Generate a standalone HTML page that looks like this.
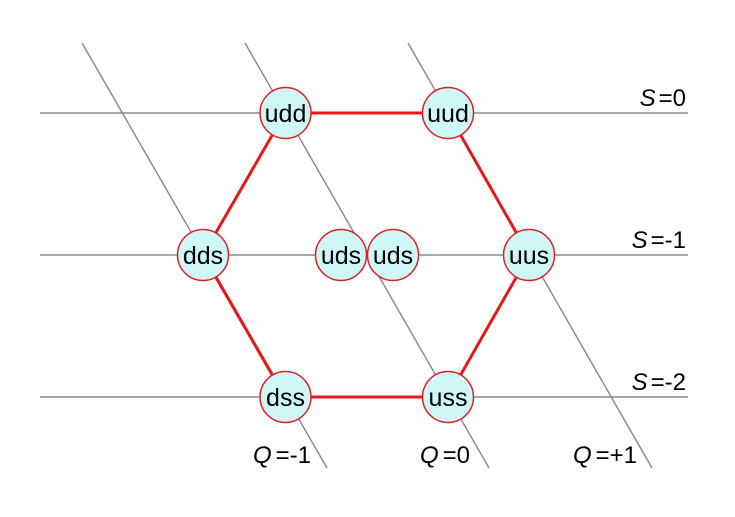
<!DOCTYPE html>
<html><head><style>body{margin:0;background:#fff}</style></head><body>
<svg width="735" height="512" xmlns="http://www.w3.org/2000/svg" font-family="Liberation Sans, sans-serif">
<g stroke="#8c8c8c" stroke-width="1.5">
<line x1="40" y1="113" x2="688" y2="113"/>
<line x1="40" y1="255" x2="688" y2="255"/>
<line x1="40" y1="397" x2="688" y2="397"/>
<line x1="82" y1="43" x2="327" y2="468"/>
<line x1="245" y1="43" x2="489" y2="468"/>
<line x1="408" y1="43" x2="652" y2="468"/>
</g>
<polygon points="285,113 448,113 529,255 448,397 285,397 203,255" fill="none" stroke="#e41a1a" stroke-width="3"/>
<g fill="#cff7f7" stroke="#e02020" stroke-width="1.5">
<circle cx="285.5" cy="113" r="25.5"/><circle cx="448" cy="113" r="25.5"/>
<circle cx="203" cy="255" r="25.5"/><circle cx="341" cy="255" r="25.5"/>
<circle cx="393" cy="255" r="25.5"/><circle cx="529" cy="255" r="25.5"/>
<circle cx="285.5" cy="397" r="25.5"/><circle cx="448" cy="397" r="25.5"/>
</g>
<g font-size="25" text-anchor="middle" fill="#000">
<text x="285.5" y="122">udd</text><text x="448" y="122">uud</text>
<text x="203" y="264">dds</text><text x="341" y="264">uds</text>
<text x="393" y="264">uds</text><text x="529" y="264">uus</text>
<text x="285.5" y="406">dss</text><text x="448" y="406">uss</text>
</g>
<g font-size="24" text-anchor="end" fill="#000">
<text x="686" y="106"><tspan font-style="italic">S</tspan><tspan dx="3">=0</tspan></text>
<text x="686" y="248"><tspan font-style="italic">S</tspan><tspan dx="3">=-1</tspan></text>
<text x="686" y="390"><tspan font-style="italic">S</tspan><tspan dx="3">=-2</tspan></text>
<text x="311" y="463"><tspan font-style="italic">Q</tspan><tspan dx="4">=-1</tspan></text>
<text x="470" y="463"><tspan font-style="italic">Q</tspan><tspan dx="4">=0</tspan></text>
<text x="637" y="463"><tspan font-style="italic">Q</tspan><tspan dx="4">=+1</tspan></text>
</g>
</svg>
</body></html>
